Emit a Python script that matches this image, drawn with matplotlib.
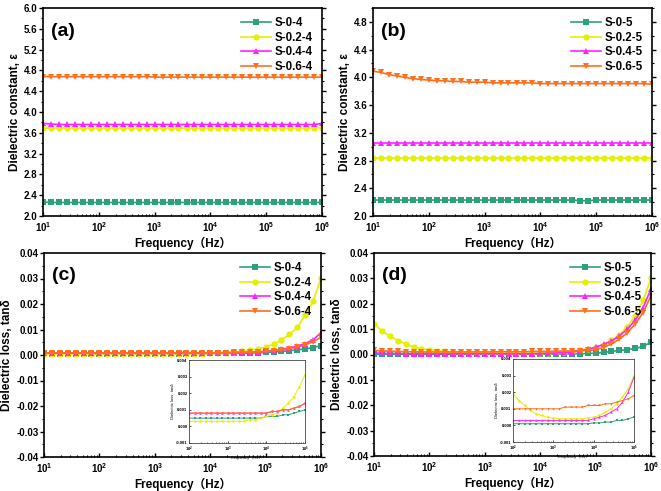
import math
import matplotlib
matplotlib.use("Agg")
import matplotlib.pyplot as plt
from matplotlib.ticker import LogLocator, FixedLocator, MultipleLocator, FuncFormatter, NullFormatter

plt.rcParams["font.family"] = ["Liberation Sans", "Noto Sans CJK SC", "DejaVu Sans"]
plt.rcParams["font.weight"] = "bold"
plt.rcParams["mathtext.fontset"] = "custom"
plt.rcParams["mathtext.rm"] = "Liberation Sans:bold"
plt.rcParams["mathtext.bf"] = "Liberation Sans:bold"

# frequency grid (Hz), 7 points per decade
freq = [10, 13.9, 19.3, 26.8, 37.3, 51.8, 72.0,
        100, 139, 193, 268, 373, 518, 720,
        1e3, 1390, 1930, 2680, 3730, 5180, 7200,
        1e4, 13900, 19300, 26800, 37300, 51800, 72000,
        1e5, 139000, 193000, 268000, 373000, 518000, 720000,
        1e6]

# (a) dielectric constant, series -4
a_s0 = [2.27, 2.26, 2.26, 2.26, 2.26, 2.26, 2.26, 2.26, 2.26, 2.26, 2.26, 2.26,
        2.26, 2.26, 2.26, 2.26, 2.26, 2.26, 2.26, 2.26, 2.26, 2.26, 2.26, 2.26,
        2.26, 2.26, 2.26, 2.26, 2.26, 2.26, 2.26, 2.26, 2.26, 2.26, 2.26, 2.26]
a_s02 = [3.69, 3.69, 3.69, 3.69, 3.69, 3.69, 3.69, 3.69, 3.69, 3.69, 3.69, 3.69,
         3.69, 3.69, 3.69, 3.69, 3.69, 3.69, 3.69, 3.69, 3.69, 3.69, 3.69, 3.69,
         3.69, 3.69, 3.69, 3.69, 3.69, 3.69, 3.69, 3.69, 3.69, 3.69, 3.69, 3.70]
a_s04 = [3.78, 3.77, 3.76, 3.76, 3.76, 3.76, 3.76, 3.76, 3.76, 3.76, 3.76, 3.76,
         3.76, 3.76, 3.76, 3.76, 3.76, 3.76, 3.76, 3.76, 3.76, 3.76, 3.76, 3.76,
         3.76, 3.76, 3.76, 3.76, 3.76, 3.76, 3.76, 3.76, 3.76, 3.76, 3.76, 3.78]
a_s06 = [4.68, 4.68, 4.68, 4.68, 4.68, 4.68, 4.68, 4.68, 4.68, 4.68, 4.68, 4.68,
         4.68, 4.68, 4.67, 4.67, 4.67, 4.67, 4.67, 4.67, 4.67, 4.67, 4.67, 4.67,
         4.67, 4.67, 4.67, 4.67, 4.67, 4.67, 4.67, 4.67, 4.67, 4.67, 4.67, 4.67]

# (b) dielectric constant, series -5
b_s0 = [2.23, 2.23, 2.23, 2.23, 2.23, 2.23, 2.23, 2.23, 2.23, 2.23, 2.23, 2.23,
        2.23, 2.23, 2.23, 2.23, 2.23, 2.23, 2.23, 2.23, 2.23, 2.23, 2.23, 2.23,
        2.23, 2.23, 2.22, 2.22, 2.23, 2.23, 2.23, 2.23, 2.23, 2.23, 2.23, 2.23]
b_s02 = [2.84, 2.84, 2.84, 2.84, 2.84, 2.84, 2.84, 2.84, 2.84, 2.84, 2.84, 2.84,
         2.84, 2.84, 2.84, 2.84, 2.84, 2.84, 2.84, 2.84, 2.84, 2.84, 2.84, 2.84,
         2.84, 2.84, 2.84, 2.84, 2.84, 2.84, 2.84, 2.84, 2.84, 2.84, 2.84, 2.84]
b_s04 = [3.06, 3.06, 3.06, 3.06, 3.06, 3.06, 3.06, 3.06, 3.06, 3.06, 3.06, 3.06,
         3.06, 3.06, 3.06, 3.06, 3.06, 3.06, 3.06, 3.06, 3.06, 3.06, 3.06, 3.06,
         3.06, 3.06, 3.06, 3.06, 3.06, 3.06, 3.06, 3.06, 3.06, 3.06, 3.06, 3.06]
b_s06 = [4.09, 4.07, 4.04, 4.02, 4.00, 3.98, 3.97, 3.96, 3.95, 3.95, 3.94, 3.94,
         3.93, 3.93, 3.93, 3.92, 3.92, 3.92, 3.92, 3.92, 3.92, 3.91, 3.91, 3.91,
         3.91, 3.91, 3.91, 3.91, 3.91, 3.91, 3.91, 3.91, 3.91, 3.91, 3.91, 3.90]

# (c) dielectric loss, series -4
c_s0 = [0.0007, 0.0005, 0.0005, 0.0005, 0.0005, 0.0005, 0.0005, 0.0005, 0.0005,
        0.0005, 0.0005, 0.0005, 0.0005, 0.0005, 0.0005, 0.0005, 0.0005, 0.0005,
        0.0005, 0.0005, 0.0005, 0.0006, 0.0006, 0.0006, 0.0007, 0.0007, 0.0008,
        0.0009, 0.0010, 0.0012, 0.0014, 0.0017, 0.0020, 0.0024, 0.0029, 0.0037]
c_s02 = [0.0003, 0.0003, 0.0003, 0.0003, 0.0003, 0.0003, 0.0003, 0.0003, 0.0003,
         0.0003, 0.0003, 0.0003, 0.0003, 0.0003, 0.0003, 0.0003, 0.0003, 0.0003,
         0.0004, 0.0004, 0.0005, 0.0006, 0.0007, 0.0008, 0.0011, 0.0014, 0.0018,
         0.0024, 0.0031, 0.0042, 0.0059, 0.0081, 0.0108, 0.0157, 0.0210, 0.0301]
c_s04 = [0.0009, 0.0008, 0.0008, 0.0008, 0.0008, 0.0008, 0.0008, 0.0008, 0.0008,
         0.0008, 0.0008, 0.0008, 0.0008, 0.0008, 0.0008, 0.0008, 0.0008, 0.0008,
         0.0008, 0.0008, 0.0008, 0.0008, 0.0009, 0.0009, 0.0010, 0.0010, 0.0011,
         0.0012, 0.0014, 0.0018, 0.0022, 0.0028, 0.0035, 0.0045, 0.0060, 0.0087]
c_s06 = [0.0008, 0.0008, 0.0008, 0.0008, 0.0008, 0.0008, 0.0008, 0.0008, 0.0008,
         0.0008, 0.0008, 0.0008, 0.0008, 0.0008, 0.0008, 0.0008, 0.0008, 0.0008,
         0.0008, 0.0008, 0.0008, 0.0008, 0.0009, 0.0009, 0.0010, 0.0010, 0.0011,
         0.0012, 0.0014, 0.0017, 0.0020, 0.0025, 0.0031, 0.0040, 0.0052, 0.0069]

# (d) dielectric loss, series -5
d_s0 = [0.0001, 0.0001, 0.0001, 0.0001, 0.0001, 0.0001, 0.0001, 0.0001, 0.0001,
        0.0001, 0.0001, 0.0001, 0.0001, 0.0001, 0.0001, 0.0001, 0.0001, 0.0001,
        0.0001, 0.0001, 0.0001, 0.00015, 0.00015, 0.0002, 0.0002, 0.0003, 0.0003,
        0.0004, 0.0005, 0.0008, 0.0012, 0.0016, 0.0019, 0.0024, 0.0032, 0.0048]
d_s02 = [0.0122, 0.0092, 0.0073, 0.0055, 0.0041, 0.0030, 0.0022, 0.0019, 0.0015,
         0.0012, 0.0009, 0.0007, 0.0006, 0.0005, 0.00045, 0.0004, 0.0004, 0.0004,
         0.0004, 0.0004, 0.00045, 0.0005, 0.0006, 0.0008, 0.0010, 0.0013, 0.0017,
         0.0022, 0.0030, 0.0037, 0.0056, 0.0077, 0.0110, 0.0152, 0.0213, 0.0300]
d_s04 = [0.0006, 0.0005, 0.0004, 0.0004, 0.0003, 0.0003, 0.0003, 0.0003, 0.0003,
         0.0003, 0.0003, 0.0003, 0.0003, 0.0003, 0.0003, 0.0003, 0.0003, 0.0003,
         0.0003, 0.0003, 0.0003, 0.0004, 0.0005, 0.0006, 0.0008, 0.0010, 0.0014,
         0.0020, 0.0029, 0.0040, 0.0053, 0.0073, 0.0100, 0.0135, 0.0185, 0.0258]
d_s06 = [0.0016, 0.0014, 0.0013, 0.0012, 0.0011, 0.0011, 0.0010, 0.0010, 0.0010,
         0.0010, 0.0010, 0.0010, 0.0010, 0.0010, 0.0010, 0.0010, 0.0011, 0.0011,
         0.0011, 0.0011, 0.0012, 0.0012, 0.0012, 0.0013, 0.0013, 0.0014, 0.0015,
         0.0016, 0.0018, 0.0028, 0.0042, 0.0060, 0.0085, 0.0120, 0.0165, 0.0232]

colors = ["#2ca27c", "#e5f000", "#ff22ff", "#ff6f1e"]
markers = ["s", "o", "^", "v"]
labels_4 = ["S-0-4", "S-0.2-4", "S-0.4-4", "S-0.6-4"]
labels_5 = ["S-0-5", "S-0.2-5", "S-0.4-5", "S-0.6-5"]

W, H = 661, 491
fig = plt.figure(figsize=(W / 100, H / 100), dpi=100)


def px_axes(x0, y0, x1, y1):
    return fig.add_axes([x0 / W, 1 - y1 / H, (x1 - x0) / W, (y1 - y0) / H])


def log_fmt(v, pos):
    return r"$\mathbf{10^{%d}}$" % int(round(math.log10(v)))


def style_main(ax, ylim, ystep, yminor, yfmt, ylabel):
    ax.set_xscale("log")
    ax.set_xlim(10, 1e6)
    ax.set_ylim(*ylim)
    ax.yaxis.set_major_locator(MultipleLocator(ystep))
    ax.yaxis.set_minor_locator(MultipleLocator(yminor))
    ax.yaxis.set_major_formatter(FuncFormatter(lambda v, p: yfmt.format(0.0 if abs(v) < 1e-9 else v)))
    ax.xaxis.set_major_locator(LogLocator(base=10, numticks=10))
    ax.xaxis.set_minor_locator(LogLocator(base=10, subs=range(2, 10), numticks=20))
    ax.xaxis.set_major_formatter(FuncFormatter(log_fmt))
    ax.xaxis.set_minor_formatter(NullFormatter())
    ax.tick_params(axis="y", which="major", direction="out", length=3, width=1, labelsize=7, pad=1)
    ax.tick_params(axis="y", which="minor", direction="out", length=1.5, width=0.8)
    ax.tick_params(axis="x", which="major", direction="in", length=3, width=1, labelsize=7, pad=3)
    ax.tick_params(axis="x", which="minor", direction="in", length=1.5, width=0.8)
    ax.tick_params(which="both", right=True, top=False)
    for s in ax.spines.values():
        s.set_linewidth(1.2)
    ax.set_ylabel(ylabel, fontsize=8.5, fontweight="bold", labelpad=2)
    ax.set_xlabel("Frequency（Hz）", fontsize=8.5, fontweight="bold", labelpad=2)


def draw(ax, series, labels, ms=4.5, lw=1.2):
    for y, c, m, lab in zip(series, colors, markers, labels):
        ax.plot(freq, y, color=c, marker=m, markersize=ms, linewidth=lw,
                markeredgewidth=0, label=lab)


def legend(ax):
    ax.legend(loc="upper right", frameon=False, handlelength=2.6,
              handletextpad=0.3, labelspacing=0.22, borderaxespad=0.4,
              prop={"weight": "bold", "size": 8.3})


def panel_tag(ax, tag):
    ax.text(0.03, 0.93, tag, transform=ax.transAxes, fontsize=14,
            fontweight="bold", va="top", ha="left")


# (a)
ax_a = px_axes(43, 8, 322, 216)
draw(ax_a, [a_s0, a_s02, a_s04, a_s06], labels_4)
style_main(ax_a, (2.0, 6.0), 0.4, 0.2, "{:.1f}", "Dielectric constant, ε")
legend(ax_a)
panel_tag(ax_a, "(a)")

# (b)
ax_b = px_axes(373, 8, 652, 216)
draw(ax_b, [b_s0, b_s02, b_s04, b_s06], labels_5)
style_main(ax_b, (2.0, 5.0), 0.4, 0.2, "{:.1f}", "Dielectric constant, ε")
ax_b.yaxis.set_major_locator(FixedLocator([2.0, 2.4, 2.8, 3.2, 3.6, 4.0, 4.4, 4.8]))
legend(ax_b)
panel_tag(ax_b, "(b)")

# (c)
ax_c = px_axes(44, 253, 321, 457)
draw(ax_c, [c_s0, c_s02, c_s04, c_s06], labels_4)
style_main(ax_c, (-0.04, 0.04), 0.01, 0.005, "{:.2f}", "Dielectric loss, tanδ")
legend(ax_c)
panel_tag(ax_c, "(c)")

# (d)
ax_d = px_axes(374, 253, 651, 456)
draw(ax_d, [d_s0, d_s02, d_s04, d_s06], labels_5)
style_main(ax_d, (-0.04, 0.04), 0.01, 0.005, "{:.2f}", "Dielectric loss, tanδ")
legend(ax_d)
panel_tag(ax_d, "(d)")


def inset(x0, y0, x1, y1, series):
    ax = px_axes(x0, y0, x1, y1)
    draw(ax, series, [None] * 4, ms=1.8, lw=0.7)
    ax.set_xscale("log")
    ax.set_xlim(100, 1e5)
    ax.set_ylim(-0.001, 0.004)
    ax.yaxis.set_major_locator(MultipleLocator(0.001))
    ax.yaxis.set_major_formatter(FuncFormatter(lambda v, p: "{:.3f}".format(0.0 if abs(v) < 1e-9 else v)))
    ax.xaxis.set_major_locator(LogLocator(base=10, numticks=10))
    ax.xaxis.set_minor_locator(LogLocator(base=10, subs=range(2, 10), numticks=20))
    ax.xaxis.set_major_formatter(FuncFormatter(log_fmt))
    ax.xaxis.set_minor_formatter(NullFormatter())
    ax.tick_params(which="major", labelsize=3, length=1.5, width=0.5, pad=1, direction="in")
    ax.tick_params(which="minor", length=0.8, width=0.4, direction="in")
    for s in ax.spines.values():
        s.set_linewidth(0.6)
        s.set_color("#444444")
    ax.set_ylabel("Dielectric loss, tanδ", fontsize=3, labelpad=1)
    ax.set_xlabel("Frequency（Hz）", fontsize=3, labelpad=1)
    return ax


inset(189, 360, 305, 443, [c_s0, c_s02, c_s04, c_s06])
inset(513, 359, 634, 442, [d_s0, d_s02, d_s04, d_s06])

fig.savefig("out.png", dpi=100)
